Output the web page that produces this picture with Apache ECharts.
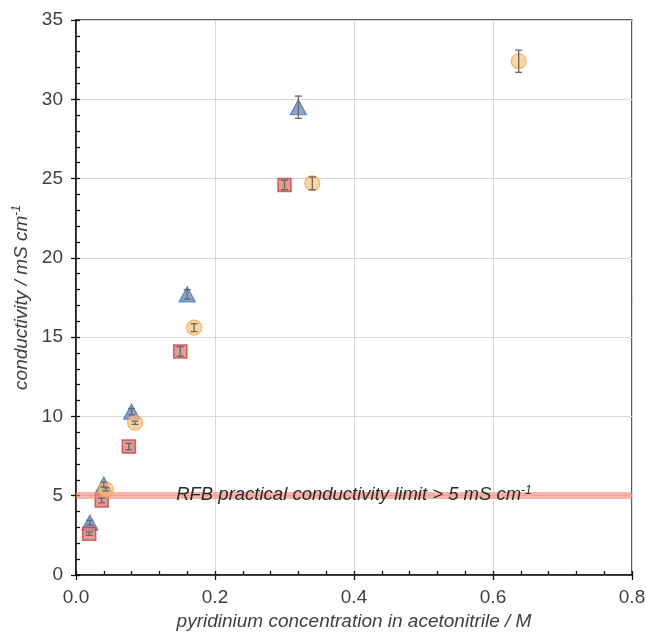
<!DOCTYPE html>
<html>
<head>
<meta charset="utf-8">
<script src="https://cdn.jsdelivr.net/npm/echarts@6/dist/echarts.min.js"></script>
<style>
  html, body { margin: 0; padding: 0; background: #fff; }
  #chart { width: 646px; height: 632px; }
</style>
</head>
<body>
<div id="chart"></div>
<script>
// pyridinium concentration (M) vs conductivity (mS/cm)
var triX = [0.02, 0.04, 0.08, 0.16, 0.32];
var triY = [3.3, 5.7, 10.3, 17.7, 29.5];
var triErr = [0.15, 0.15, 0.2, 0.3, 0.7];

var circX = [0.043, 0.085, 0.17, 0.34, 0.637];
var circY = [5.4, 9.6, 15.6, 24.7, 32.4];
var circErr = [0.1, 0.1, 0.25, 0.4, 0.7];

var sqX = [0.019, 0.037, 0.076, 0.15, 0.30];
var sqY = [2.6, 4.7, 8.1, 14.1, 24.6];
var sqErr = [0.1, 0.15, 0.2, 0.3, 0.3];

var limitY = 5;
var limitText = 'RFB practical conductivity limit > 5 mS cm{sup|-1}';

var chartDom = document.getElementById('chart');
var myChart = echarts.init(chartDom);
var font = 'Liberation Sans, Arial, sans-serif';
var textColor = '#404040';

function pts(xs, ys) {
    return xs.map(function (x, i) { return [x, ys[i]]; });
}
function errPts(xs, ys, es) {
    return xs.map(function (x, i) { return [x, ys[i] - es[i], ys[i] + es[i]]; });
}

function renderErr(params, api) {
    var lo = api.coord([api.value(0), api.value(1)]);
    var hi = api.coord([api.value(0), api.value(2)]);
    var w = 3.5;
    var style = { stroke: '#666', lineWidth: 1.3 };
    return {
        type: 'group',
        children: [
            { type: 'line', shape: { x1: lo[0], y1: lo[1], x2: hi[0], y2: hi[1] }, style: style },
            { type: 'line', shape: { x1: lo[0] - w, y1: lo[1], x2: lo[0] + w, y2: lo[1] }, style: style },
            { type: 'line', shape: { x1: hi[0] - w, y1: hi[1], x2: hi[0] + w, y2: hi[1] }, style: style }
        ]
    };
}

function errSeries(data) {
    return {
        type: 'custom',
        renderItem: renderErr,
        data: data,
        z: 10,
        silent: true,
        encode: { x: 0, y: [1, 2] }
    };
}

var option = {
    animation: false,
    backgroundColor: '#fff',
    grid: {
        left: 76, right: 14, top: 20, bottom: 57,
        outerBoundsMode: 'none',
        containLabel: false,
        show: true,
        borderColor: '#222',
        borderWidth: 1.5
    },
    xAxis: [
        {
            type: 'value',
            min: 0, max: 0.8, interval: 0.2,
            position: 'bottom',
            name: 'pyridinium concentration in acetonitrile / M',
            nameLocation: 'middle',
            nameGap: 34,
            nameTextStyle: { fontFamily: font, fontSize: 19, fontStyle: 'italic', color: textColor },
            axisLine: { show: true, lineStyle: { color: '#111', width: 1.5 } },
            axisTick: { show: true, length: 5, lineStyle: { color: '#111', width: 1.3 } },
            axisLabel: {
                fontFamily: font, fontSize: 19, color: textColor, margin: 13,
                formatter: function (v) { return v.toFixed(1); }
            },
            splitLine: { show: true, lineStyle: { color: '#d9d9d9', width: 1 } }
        },
        {
            type: 'value',
            min: 0, max: 0.8, interval: 0.04,
            position: 'bottom',
            axisLine: { show: false },
            axisTick: { show: true, inside: true, length: 4, lineStyle: { color: '#111', width: 1.3 } },
            axisLabel: { show: false },
            splitLine: { show: false }
        }
    ],
    yAxis: [
        {
            type: 'value',
            min: 0, max: 35, interval: 5,
            position: 'left',
            name: 'conductivity / mS cm{sup|-1}',
            nameLocation: 'middle',
            nameGap: 43,
            nameTextStyle: {
                fontFamily: font, fontSize: 19, fontStyle: 'italic', color: textColor,
                rich: { sup: { fontFamily: font, fontSize: 12, fontStyle: 'italic', color: textColor, verticalAlign: 'top', padding: [0, 0, 9, 0] } }
            },
            axisLine: { show: true, lineStyle: { color: '#111', width: 1.5 } },
            axisTick: { show: true, length: 5, lineStyle: { color: '#111', width: 1.3 } },
            axisLabel: { fontFamily: font, fontSize: 19, color: textColor, margin: 13 },
            splitLine: { show: true, lineStyle: { color: '#d9d9d9', width: 1 } }
        },
        {
            type: 'value',
            min: 0, max: 35, interval: 1,
            position: 'left',
            axisLine: { show: false },
            axisTick: { show: true, inside: true, length: 4, lineStyle: { color: '#111', width: 1.3 } },
            axisLabel: { show: false },
            splitLine: { show: false }
        }
    ],
    series: [
        {
            name: 'limit',
            type: 'line',
            data: [],
            silent: true,
            markLine: {
                silent: true,
                symbol: ['none', 'none'],
                lineStyle: { color: 'rgba(240,130,115,0.6)', width: 7, type: 'solid' },
                label: {
                    show: true,
                    position: 'middle',
                    distance: -10,
                    formatter: limitText,
                    fontFamily: font, fontSize: 18.5, fontStyle: 'italic', color: '#2a2a2a',
                    rich: { sup: { fontFamily: font, fontSize: 12, fontStyle: 'italic', color: '#2a2a2a', verticalAlign: 'top', padding: [0, 0, 9, 0] } }
                },
                data: [{ yAxis: limitY }]
            },
            z: 1
        },
        {
            name: 'triangle',
            type: 'scatter',
            symbol: 'triangle',
            symbolSize: [16, 15],
            data: pts(triX, triY),
            itemStyle: { color: 'rgba(95,128,190,0.9)', borderColor: '#4472c4', borderWidth: 1.2 },
            z: 3
        },
        {
            name: 'square',
            type: 'scatter',
            symbol: 'rect',
            symbolSize: 13,
            data: pts(sqX, sqY),
            itemStyle: { color: 'rgba(215,125,115,0.95)', borderColor: '#c9403e', borderWidth: 1.5 },
            z: 4
        },
        {
            name: 'circle',
            type: 'scatter',
            symbol: 'circle',
            symbolSize: 15,
            data: pts(circX, circY),
            itemStyle: { color: 'rgba(250,195,120,0.85)', borderColor: '#f5a840', borderWidth: 1.2 },
            z: 5
        },
        errSeries(errPts(triX, triY, triErr)),
        errSeries(errPts(sqX, sqY, sqErr)),
        errSeries(errPts(circX, circY, circErr))
    ]
};

if (option && typeof option === 'object') {
    myChart.setOption(option);
}
</script>
</body>
</html>
